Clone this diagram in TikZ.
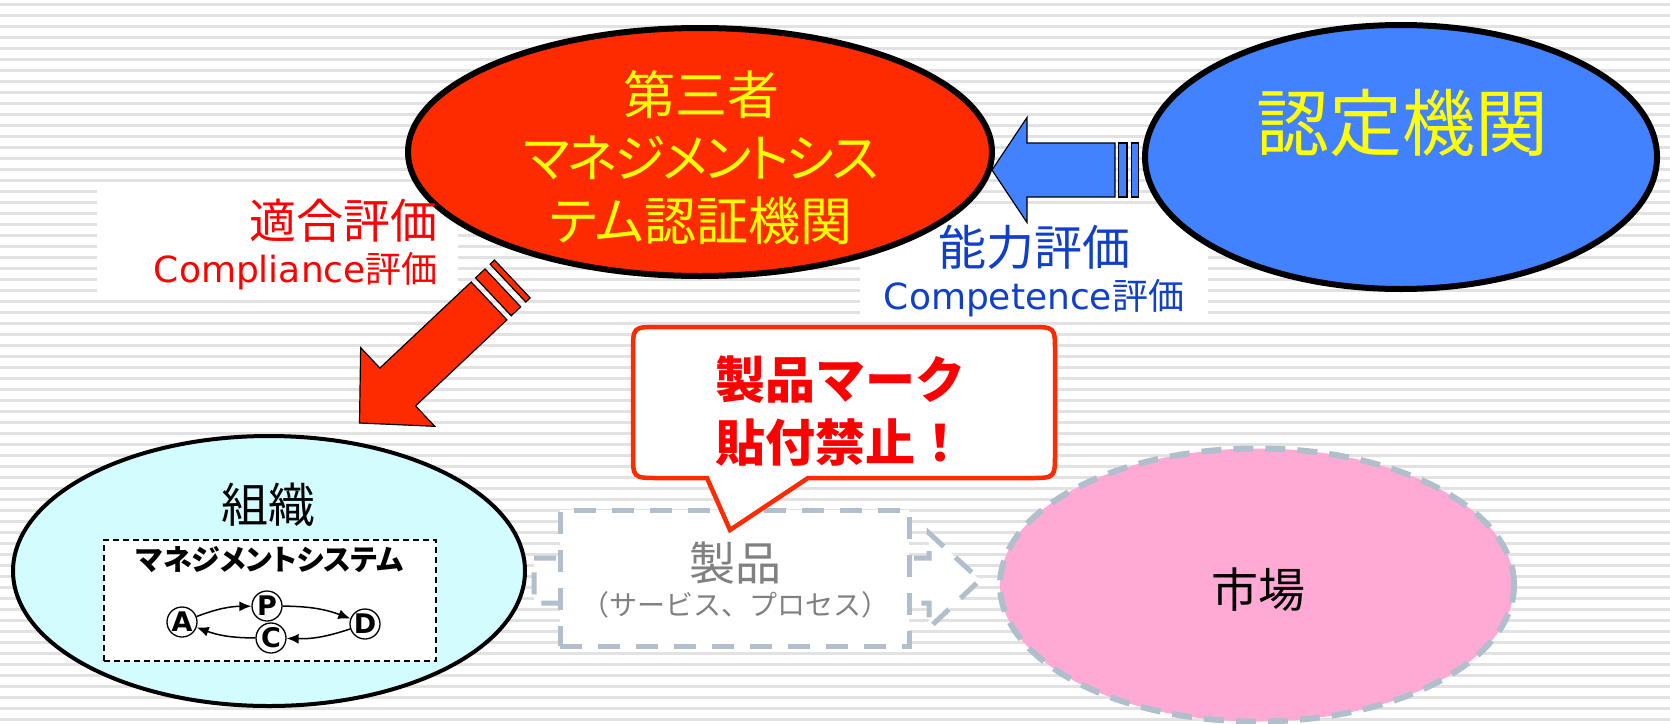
\documentclass[tikz,border=0pt]{standalone}
\usepackage{fontspec}
\setmainfont{Noto Sans CJK JP}[RawFeature=+palt]
\newfontfamily\jpf{Noto Sans CJK JP}
\newfontfamily\lat{DejaVu Sans}
\usetikzlibrary{shapes.geometric,arrows.meta}
\definecolor{stripecol}{HTML}{E2E2E2}
\definecolor{redfill}{HTML}{FF2B00}
\definecolor{bluefill}{HTML}{4281FF}
\definecolor{yel}{HTML}{FFFF00}
\definecolor{lblue}{HTML}{1040C8}
\definecolor{cyanfill}{HTML}{D2FCFF}
\definecolor{pinkfill}{HTML}{FFAAD5}
\definecolor{greydash}{HTML}{B1BFCC}
\definecolor{greytext}{HTML}{808080}
\definecolor{textred}{HTML}{FF0000}
\tikzset{
  bigell/.style={ellipse, draw=black, line width=6pt, inner sep=0pt},
  prodline/.style={draw=greydash, line width=5pt, dash pattern=on 22pt off 16pt},
  blockarrow/.style={draw=black, line width=1.2pt},
  circ/.style={circle, draw=black, line width=1.3pt, fill=white, minimum size=30pt, inner sep=0pt},
  pdcaletter/.style={font=\lat\bfseries\fontsize{27}{27}\selectfont, inner sep=0pt},
  pdcaarrow/.style={line width=1.5pt, -{Latex[length=12pt,width=10pt]}},
  txt/.style={inner sep=0pt, align=center},
}
\begin{document}
\begin{tikzpicture}[x=1pt,y=-1pt]
\useasboundingbox (0,0) rectangle (1670,723);
\fill[white] (0,0) rectangle (1670,723);
% background stripes
\foreach \i in {0,...,65} {
  \fill[stripecol] (0,{3.3+11*\i}) rectangle (1670,{5.5+11*\i});
}
% white label backgrounds
\fill[white] (97,183) rectangle (458,300);
\fill[white] (860,207) rectangle (1208,322);

% product arrow and box
\draw[prodline, fill=white] (534,558) -- (929,558) -- (929,533) -- (980,580) -- (929,628) -- (929,603) -- (534,603) -- cycle;
\node[draw=greydash, line width=5pt, dash pattern=on 22pt off 16pt, fill=white, minimum width=349pt, minimum height=136pt, inner sep=0pt] (prod) at (734.5,578) {};
\node[txt, text=greytext, font=\fontsize{46}{46}\selectfont] (prodt) at (735,563) {製品};
\node[txt, text=greytext, font=\jpf\fontsize{28}{28}\selectfont] (prods) at (735,605) {（サービス、プロセス）};

% market
\node[ellipse, fill=pinkfill, draw=greydash, line width=6pt, dash pattern=on 20pt off 12pt, minimum width=514pt, minimum height=273pt, inner sep=0pt] (market) at (1257,585) {};
\node[txt, font=\fontsize{47}{47}\selectfont] (markett) at (1258,590) {市場};

% organisation
\node[ellipse, fill=cyanfill, draw=black, line width=4pt, minimum width=512pt, minimum height=270pt, inner sep=0pt] (org) at (269,571) {};
\node[txt, font=\fontsize{47}{47}\selectfont] (orgt) at (268,505) {組織};
\node[draw=black, line width=1.4pt, dash pattern=on 6pt off 4pt, fill=white, minimum width=332pt, minimum height=121pt, inner sep=0pt] (ms) at (270,600.5) {};
\node[txt, font=\bfseries\fontsize{29}{29}\selectfont] (mst) at (270,560) {マネジメントシステム};
\node[circ] (A) at (182,622) {};
\node[circ] (P) at (267,606) {};
\node[circ] (D) at (365,624) {};
\node[circ] (C) at (271,638) {};
\node[pdcaletter] at (A) {A};
\node[pdcaletter] at (P) {P};
\node[pdcaletter] at (D) {D};
\node[pdcaletter] at (C) {C};
\draw[pdcaarrow] (A) to[bend left=10] (P);
\draw[pdcaarrow] (P) to[bend left=10] (D);
\draw[pdcaarrow] (D) to[bend left=10] (C);
\draw[pdcaarrow] (C) to[bend left=10] (A);

% certification body
\node[bigell, fill=redfill, minimum width=584pt, minimum height=248pt] (cb) at (700,152) {};
\node[txt, text=yel, font=\fontsize{52}{63}\selectfont] (cbt) at (701,158) {第三者\\{\addfontfeature{LetterSpace=-5}マネジメントシス}\\テム認証機関};

% accreditation body
\node[bigell, fill=bluefill, minimum width=512pt, minimum height=264pt] (ab) at (1401,157) {};
\node[txt, text=yel, font=\fontsize{73}{73}\selectfont] (abt) at (1402,123) {認定機関};

% blue striped arrow (ab -> cb)
\begin{scope}[shift={(992,170)}]
  \draw[blockarrow, fill=bluefill] (0,0) -- (35,-52.5) -- (35,-27) -- (123,-27) -- (123,27) -- (35,27) -- (35,52.5) -- cycle;
  \draw[blockarrow, fill=bluefill] (126.5,-27) rectangle (135,27);
  \draw[blockarrow, fill=bluefill] (139.5,-27) rectangle (146.5,27);
\end{scope}

% red striped arrow (cb -> org)
\begin{scope}[shift={(359.5,423)}, rotate=43.3]
  \draw[blockarrow, fill=redfill] (0,0) -- (52.5,-54) -- (52.5,-26) -- (178,-26) -- (178,26) -- (52.5,26) -- (52.5,54) -- cycle;
  \draw[blockarrow, fill=redfill] (184,-26) rectangle (197,26);
  \draw[blockarrow, fill=redfill] (204,-26) rectangle (210,26);
\end{scope}

% labels
\node[txt, anchor=east, text=textred, font=\fontsize{47}{47}\selectfont] (comp1) at (438,221) {適合評価};
\node[txt, anchor=east, text=textred, font=\fontsize{36}{36}\selectfont] (comp2) at (438,271) {{\lat Compliance}評価};
\node[txt, text=lblue, font=\fontsize{48}{48}\selectfont] (compe1) at (1034,247) {能力評価};
\node[txt, text=lblue, font=\fontsize{36}{36}\selectfont] (compe2) at (1034,298) {{\lat Competence}評価};

% callout
\draw[draw=redfill, line width=4.5pt, fill=white, line join=miter]
  (707,478) -- (730,530) -- (808,478) -- (1030,478) .. controls (1055,478) .. (1055,453)
  -- (1055,352) .. controls (1055,327) .. (1030,327) -- (658,327) .. controls (633,327) .. (633,352)
  -- (633,453) .. controls (633,478) .. (658,478) -- cycle;
\node[txt, text=textred, font=\jpf\bfseries\fontsize{50}{63}\selectfont] (callt) at (840,411) {製品マーク\\貼付禁止！};
\end{tikzpicture}
\end{document}
